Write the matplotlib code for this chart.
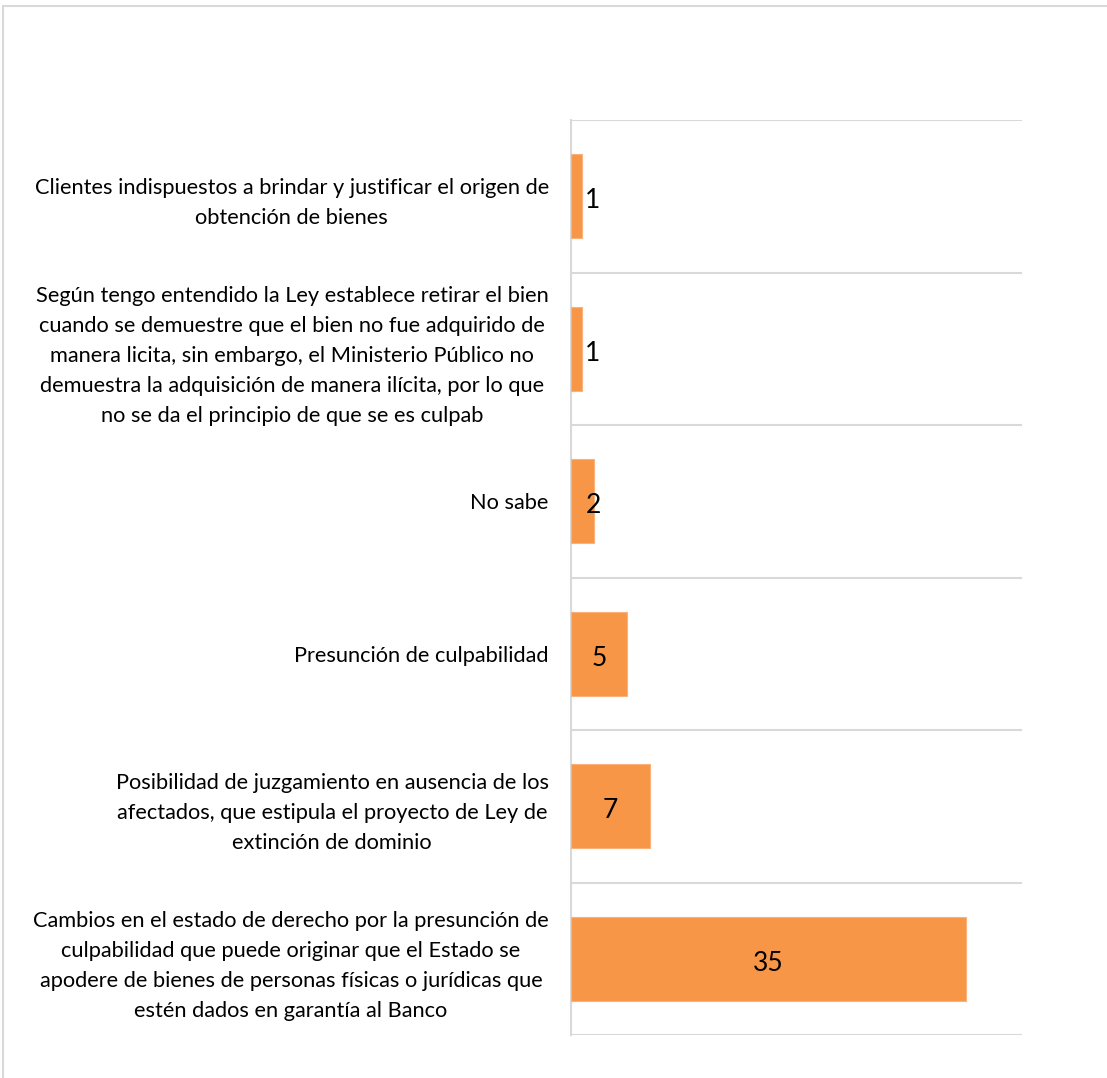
import matplotlib
matplotlib.use("Agg")
import matplotlib.pyplot as plt
from matplotlib.patches import Rectangle

categories = [
    "Clientes indispuestos a brindar y justificar el origen de\nobtención de bienes",
    "Según tengo entendido la Ley establece retirar el bien\ncuando se demuestre que el bien no fue adquirido de\nmanera licita, sin embargo, el Ministerio Público no\ndemuestra la adquisición de manera ilícita, por lo que\nno se da el principio de que se es culpab",
    "No sabe",
    "Presunción de culpabilidad",
    "Posibilidad de juzgamiento en ausencia de los\nafectados, que estipula el proyecto de Ley de\nextinción de dominio",
    "Cambios en el estado de derecho por la presunción de\nculpabilidad que puede originar que el Estado se\napodere de bienes de personas físicas o jurídicas que\nestén dados en garantía al Banco",
]
values = [1, 1, 2, 5, 7, 35]

plt.rcParams['font.family'] = ['Lato', 'DejaVu Sans']

fig = plt.figure(figsize=(11.07, 10.78), dpi=100)
ax = fig.add_axes([571/1107, 1-1035/1078, (1022-571)/1107, (1035-120)/1078])

pos = list(range(len(values)))
ax.barh(pos, values, height=0.55, color='#F79646', edgecolor='#FAB27A', linewidth=0.8, zorder=3)
ax.set_xlim(0, 40)
ax.set_ylim(len(values)-0.5, -0.5)

for p, v in zip(pos, values):
    ax.text(max(v/2, 1.95), p + 0.03, str(v), ha='center', va='center', fontsize=19, color='black', zorder=4)

ax.set_yticks(pos)
ax.set_yticklabels(categories, multialignment='center', fontsize=15.7, linespacing=1.62)
ax.tick_params(axis='y', length=0, pad=16)
ax.set_yticks([p+0.5 for p in range(-1, len(values))], minor=True)
ax.tick_params(axis='y', which='minor', length=0)
ax.grid(axis='y', which='minor', color='#D9D9D9', linewidth=1.5, zorder=0)
ax.grid(axis='y', which='major', visible=False)
ax.set_xticks([])
for s in ['top', 'right', 'bottom']:
    ax.spines[s].set_visible(False)
ax.spines['left'].set_color('#D9D9D9')
ax.spines['left'].set_linewidth(1.5)

fig.patches.append(Rectangle((3/1107, -0.1), 1.2, 1-6/1078+0.1, transform=fig.transFigure,
                             fill=False, edgecolor='#D9D9D9', linewidth=1.5))

fig.savefig('out.png', dpi=100)
